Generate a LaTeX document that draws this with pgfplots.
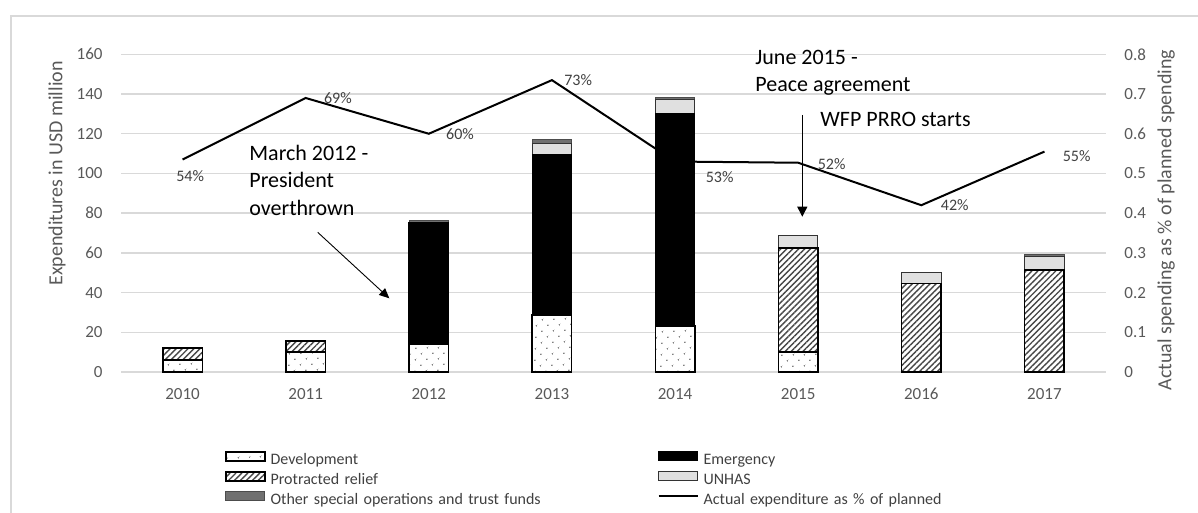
\documentclass[border=0pt]{standalone}
\usepackage{fontspec}
\setmainfont{Carlito}
\usepackage{pgfplots}
\pgfplotsset{compat=1.18}
\usetikzlibrary{patterns.meta, arrows.meta}
\definecolor{gridc}{HTML}{D9D9D9}
\definecolor{tickc}{HTML}{595959}
\definecolor{labc}{HTML}{404040}
\definecolor{unhas}{HTML}{E0E0E0}
\definecolor{otherc}{HTML}{707070}

\tikzset{
 devstyle/.style={fill=white, draw=black, line width=0.8pt, postaction={pattern color=black!55, pattern={Dots[radius=0.45pt,distance=4pt,angle=45]}}},
 protstyle/.style={fill=white, draw=black, line width=0.8pt, postaction={pattern color=black!72, pattern={Lines[angle=45,distance=2.1pt,line width=0.7pt]}}},
 emstyle/.style={fill=black, draw=black, line width=0.6pt},
 unstyle/.style={fill=unhas, draw=black!80, line width=0.5pt},
 otstyle/.style={fill=otherc, draw=black!70, line width=0.5pt},
 lbl/.style={anchor=west, inner sep=0pt, font=\fontsize{8}{9}\selectfont, text=labc},
 ann/.style={anchor=base west, inner sep=0pt, font=\fontsize{11}{13}\selectfont, text=black},
}
\pgfplotsset{
 barleg/.style={legend image code/.code={\draw[##1] (0pt,0.3pt) rectangle (19.5pt,4.8pt);}},
 lineleg/.style={legend image code/.code={\draw[##1] (0pt,2.6pt) -- (19.5pt,2.6pt);}},
}

\pgfplotstableread{
x dev prot em un ot
0 6.0 6.2 0 0 0
1 10.2 5.4 0 0 0
2 13.9 0 61.5 0 0.8
3 28.7 0 80.9 5.6 2.1
4 23.3 0 106.6 7.1 1.3
5 10.2 52.4 0 5.9 0
6 0 44.5 0 5.5 0
7 0 51.5 0 6.5 1.3
}\bars

\pgfplotstableread{
x pct
0 0.535
1 0.690
2 0.600
3 0.735
4 0.530
5 0.527
6 0.420
7 0.555
}\line

\begin{document}
\begin{tikzpicture}
\useasboundingbox (0,0) rectangle (599pt,-256.5pt);

\begin{axis}[
  at={(60.5pt,-186pt)}, anchor=south west,
  scale only axis, width=492.5pt, height=158.85pt,
  ybar stacked, bar width=19.75pt,
  xmin=-0.5, xmax=7.5, ymin=0, ymax=160,
  xtick={0,1,2,3,4,5,6,7},
  xticklabels={2010,2011,2012,2013,2014,2015,2016,2017},
  ytick={0,20,40,60,80,100,120,140,160},
  axis line style={draw=none}, tick style={draw=none},
  ymajorgrids, major grid style={draw=gridc, line width=0.75pt},
  ticklabel style={font=\fontsize{8.5}{10}\selectfont, text=tickc},
  /pgf/number format/assume math mode=true,
  xticklabel style={yshift=-4.5pt},
  yticklabel style={xshift=-5.7pt},
  ylabel={Expenditures in USD million},
  ylabel style={at={(axis description cs:-0.065,0.625)}, anchor=center, font=\fontsize{10}{12}\selectfont, text=tickc},
]
\addplot[devstyle] table[x=x, y=dev] {\bars};
\addplot[protstyle] table[x=x, y=prot] {\bars};
\addplot[emstyle] table[x=x, y=em] {\bars};
\addplot[unstyle] table[x=x, y=un] {\bars};
\addplot[otstyle] table[x=x, y=ot] {\bars};
\end{axis}

\begin{axis}[
  at={(60.5pt,-186pt)}, anchor=south west,
  scale only axis, width=492.5pt, height=158.85pt,
  xmin=-0.5, xmax=7.5, ymin=0, ymax=0.8,
  axis x line=none, axis y line*=right,
  axis line style={draw=none}, tick style={draw=none},
  ytick={0,0.1,0.2,0.3,0.4,0.5,0.6,0.7,0.8},
  yticklabels={0,0.1,0.2,0.3,0.4,0.5,0.6,0.7,0.8},
  yticklabel style={xshift=5.7pt, font=\fontsize{8.5}{10}\selectfont, text=tickc},
  /pgf/number format/assume math mode=true,
  ylabel={Actual spending as \% of planned spending},
  ylabel style={at={(axis description cs:1.061,0.478)}, anchor=center, font=\fontsize{10}{12}\selectfont, text=tickc},
  legend columns=2,
  legend cell align=left,
  legend style={at={(axis description cs:0.1056,-0.2487)}, anchor=north west, draw=none, fill=none,
    inner sep=0pt, outer sep=0pt, column sep=2.5pt, row sep=0pt,
    font=\fontsize{8}{9}\selectfont, text=labc,
    nodes={inner sep=0pt, text height=6.5pt, text depth=3pt},
    /tikz/every even column/.append style={text width=191pt, align=left}},
]
\addlegendimage{barleg, devstyle}\addlegendentry{Development}
\addlegendimage{barleg, emstyle}\addlegendentry{Emergency}
\addlegendimage{barleg, protstyle}\addlegendentry{Protracted relief}
\addlegendimage{barleg, unstyle}\addlegendentry{UNHAS}
\addlegendimage{barleg, otstyle}\addlegendentry{Other special operations and trust funds}
\addplot[black, line width=1pt, mark=none, lineleg] table[x=x, y=pct] {\line};
\addlegendentry{Actual expenditure as \% of planned}

\node[lbl, xshift=-3.3pt, yshift=-8.2pt] at (axis cs:0,0.535) {54\%};
\node[lbl, xshift=9pt] at (axis cs:1,0.690) {69\%};
\node[lbl, xshift=8.5pt] at (axis cs:2,0.600) {60\%};
\node[lbl, xshift=6pt] at (axis cs:3,0.735) {73\%};
\node[lbl, xshift=15.2pt, yshift=-8pt] at (axis cs:4,0.530) {53\%};
\node[lbl, xshift=9.6pt, yshift=-0.6pt] at (axis cs:5,0.527) {52\%};
\node[lbl, xshift=9.6pt] at (axis cs:6,0.420) {42\%};
\node[lbl, xshift=9pt, yshift=-2pt] at (axis cs:7,0.555) {55\%};
\end{axis}

\begin{scope}[x=0.5pt, y=-0.5pt]
\node[ann] at (249,161) {March 2012 -};
\node[ann] at (249,188) {President};
\node[ann] at (249,215) {overthrown};
\node[ann] at (755,65) {June 2015 -};
\node[ann] at (755,92) {Peace agreement};
\node[ann] at (820,127) {WFP PRRO starts};
\draw[line width=0.45pt, -{Triangle[length=5pt,width=4.5pt]}] (317.7,232.3) -- (389.3,298.3);
\draw[line width=0.55pt, -{Triangle[length=5pt,width=5pt]}] (802.3,115) -- (802.3,216.7);
\draw[gridc, line width=0.75pt] (11,700) -- (11,16) -- (1400,16);
\end{scope}
\end{tikzpicture}
\end{document}
